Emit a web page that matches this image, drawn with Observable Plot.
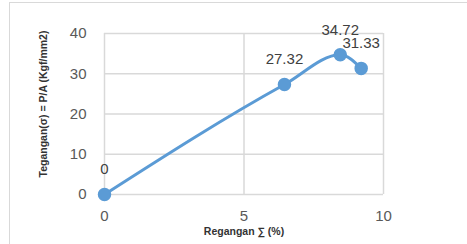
<!DOCTYPE html>
<html><head><meta charset="utf-8">
<script src="https://cdn.jsdelivr.net/npm/d3@7"></script>
<script src="https://cdn.jsdelivr.net/npm/@observablehq/plot@0.6"></script>
<style>
body{margin:0;background:#fff;}
#wrap{position:relative;width:467px;height:244px;overflow:hidden;}
#frame{position:absolute;left:9px;top:2px;width:470px;height:260px;border:1px solid #d9d9d9;box-sizing:border-box;}
#chart{position:absolute;left:0;top:0;}
</style></head>
<body><div id="wrap"><div id="frame"></div><div id="chart"></div></div>
<script>
const strain = [0, 6.45, 8.45, 9.2];
const stress = [0, 27.32, 34.72, 31.33];
const labels = ["0", "27.32", "34.72", "31.33"];
const xTicks = [0, 5, 10];
const yTicks = [0, 10, 20, 30, 40];
const data = strain.map((x, i) => ({x, y: stress[i], label: labels[i]}));
const font = "Liberation Sans, Arial, sans-serif";
const chart = Plot.plot({
  width: 467, height: 244,
  marginLeft: 104, marginRight: 84, marginTop: 33, marginBottom: 50,
  style: {fontFamily: font, background: "transparent", overflow: "visible"},
  x: {domain: [0, 10], ticks: xTicks},
  y: {domain: [0, 40], ticks: yTicks},
  marks: [
    Plot.gridY(yTicks, {stroke: "#d9d9d9", strokeOpacity: 1, strokeWidth: 1.5}),
    Plot.gridX(xTicks, {stroke: "#d9d9d9", strokeOpacity: 1, strokeWidth: 1.5}),
    Plot.axisY(yTicks, {tickSize: 0, tickPadding: 18, fontSize: 15, fill: "#595959", label: null}),
    Plot.axisX(xTicks, {tickSize: 0, tickPadding: 16, fontSize: 15, fill: "#595959", label: null}),
    Plot.line(data, {x: "x", y: "y", stroke: "#5b9bd5", strokeWidth: 3, curve: "monotone-x"}),
    Plot.dot(data, {x: "x", y: "y", r: 6, fill: "#5b9bd5", stroke: "#5b9bd5"}),
    Plot.text(data, {x: "x", y: "y", text: "label", dy: -25, fontSize: 15, fill: "#404040"}),
    Plot.text(["Regangan ∑ (%)"], {frameAnchor: "bottom", dy: 40, fontSize: 10.5, fontWeight: "bold", fill: "#333"}),
    Plot.text(["Tegangan(σ) = P/A (Kgf/mm2)"], {frameAnchor: "left", textAnchor: "middle", dx: -61, dy: -10, rotate: -90, fontSize: 10.5, fontWeight: "bold", fill: "#333"})
  ]
});
document.getElementById("chart").appendChild(chart);
</script></body></html>
